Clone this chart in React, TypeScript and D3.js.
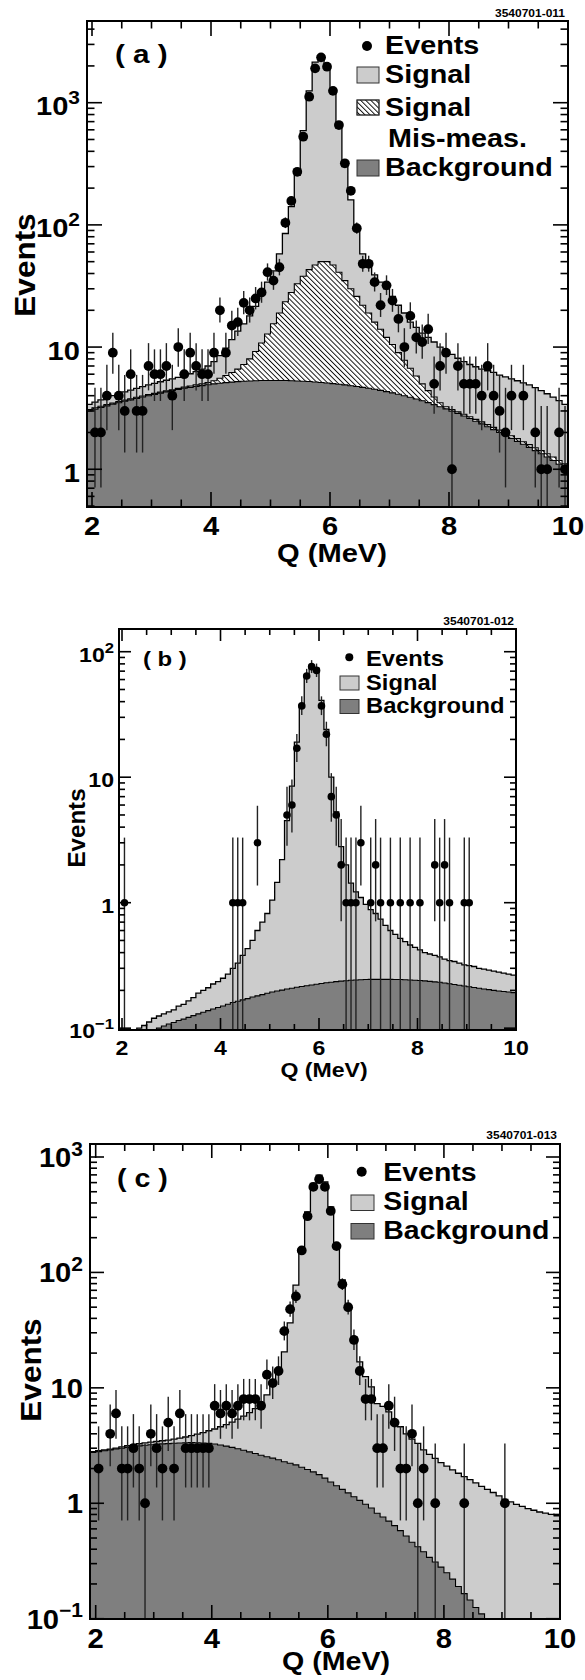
import React from 'react';
import * as d3 from 'd3';

// ---------- data (bins of 0.1 MeV starting at 1.9 MeV) ----------
const EDGE0 = 1.9;
const BINW = 0.1;

// Panel (a)
const sigA = [3.4,
  3.55, 3.7, 3.85, 4.0, 4.15, 4.3, 4.45, 4.6, 4.75, 4.9,
  5.05, 5.2, 5.35, 5.5, 5.65, 5.85, 6.05, 6.3, 6.6, 7.0,
  7.6, 8.5, 9.8, 11.5, 13.5, 15.5, 18, 21.5, 27, 34,
  42, 58, 85, 141, 256, 590, 1250, 2150, 2300, 2030,
  1300, 620, 300, 160, 92, 58, 46, 39, 34, 30,
  26, 22, 19, 16, 14.5, 13, 12, 11, 10, 9.3,
  8.7, 8.1, 7.6, 7.2, 6.9, 6.6, 6.4, 6.2, 5.9, 5.7,
  5.5, 5.3, 5.1, 4.9, 4.65, 4.4, 4.15, 3.9, 3.65, 3.4];
const misA = [3.08,
  3.18, 3.28, 3.38, 3.48, 3.58, 3.68, 3.78, 3.88, 3.98, 4.08,
  4.18, 4.28, 4.38, 4.48, 4.59, 4.7, 4.8, 4.9, 5.0, 5.12,
  5.3, 5.55, 5.85, 6.2, 6.6, 7.2, 8.0, 9.2, 10.8, 12.8,
  15.5, 19, 23.5, 28, 33, 38, 43, 47, 50, 50,
  47, 41, 35, 30, 26, 22, 19, 16, 14, 12,
  10.5, 9, 7.8, 6.7, 5.8, 5.0, 4.4, 3.9, 3.5, 3.25,
  3.08, 2.95, 2.82, 2.69, 2.56, 2.44, 2.32, 2.2, 2.09, 1.98,
  1.88, 1.78, 1.68, 1.59, 1.5, 1.42, 1.34, 1.26, 1.18, 1.11];
const bgA = [3.0,
  3.1, 3.2, 3.3, 3.4, 3.5, 3.6, 3.7, 3.8, 3.9, 4.0,
  4.1, 4.2, 4.3, 4.4, 4.5, 4.6, 4.68, 4.76, 4.84, 4.92,
  5.0, 5.06, 5.12, 5.17, 5.21, 5.25, 5.28, 5.3, 5.32, 5.33,
  5.33, 5.33, 5.32, 5.3, 5.28, 5.25, 5.22, 5.18, 5.13, 5.08,
  5.02, 4.96, 4.9, 4.83, 4.76, 4.68, 4.6, 4.51, 4.42, 4.32,
  4.22, 4.11, 4.0, 3.88, 3.76, 3.64, 3.51, 3.38, 3.25, 3.12,
  2.99, 2.86, 2.73, 2.6, 2.47, 2.35, 2.23, 2.11, 2.0, 1.89,
  1.79, 1.69, 1.6, 1.51, 1.42, 1.34, 1.26, 1.18, 1.1, 1.03];
const evA = [0,
  2, 2, 4, 9, 4, 3, 6, 3, 3, 7,
  6, 6, 7, 4, 10, 6, 9, 7, 6, 6,
  9, 20, 9, 15, 16, 23, 20, 25, 28, 41,
  35, 45, 104, 157, 272, 527, 1120, 1910, 2350, 1970,
  1250, 656, 319, 190, 94, 48, 48, 34, 22, 32,
  24, 17, 10, 18, 12, 11, 14, 5, 7, 9,
  1, 7, 5, 5, 5, 4, 7, 4, 3, 2,
  4, 0, 4, 0, 2, 1, 1, 0, 2, 1];

// Panel (b)
const sigB = [0.07,
  0.075, 0.08, 0.09, 0.1, 0.105, 0.112, 0.12, 0.125, 0.13, 0.135,
  0.14, 0.15, 0.155, 0.165, 0.175, 0.19, 0.2, 0.21, 0.225, 0.235,
  0.25, 0.27, 0.3, 0.33, 0.38, 0.43, 0.5, 0.6, 0.7, 0.82,
  1.05, 1.45, 2.2, 4.5, 8.5, 19, 37.6, 65, 78, 74,
  41, 24, 10, 5.3, 2.8, 2.0, 1.43, 1.22, 1.1, 0.97,
  0.88, 0.82, 0.74, 0.66, 0.6, 0.56, 0.52, 0.49, 0.46, 0.44,
  0.42, 0.4, 0.39, 0.38, 0.37, 0.355, 0.345, 0.34, 0.33, 0.32,
  0.315, 0.31, 0.3, 0.295, 0.29, 0.285, 0.28, 0.275, 0.27, 0.265];
const bgB = [0.06,
  0.065, 0.07, 0.075, 0.08, 0.085, 0.09, 0.095, 0.1, 0.104, 0.108,
  0.111, 0.115, 0.118, 0.122, 0.126, 0.13, 0.134, 0.138, 0.142, 0.146,
  0.15, 0.155, 0.16, 0.164, 0.168, 0.172, 0.177, 0.181, 0.185, 0.19,
  0.194, 0.198, 0.201, 0.205, 0.208, 0.212, 0.215, 0.218, 0.221, 0.224,
  0.227, 0.23, 0.232, 0.235, 0.237, 0.239, 0.241, 0.242, 0.243, 0.244,
  0.245, 0.245, 0.245, 0.245, 0.245, 0.244, 0.244, 0.243, 0.242, 0.241,
  0.24, 0.238, 0.236, 0.234, 0.232, 0.229, 0.226, 0.223, 0.22, 0.217,
  0.214, 0.211, 0.208, 0.205, 0.203, 0.2, 0.198, 0.196, 0.194, 0.192];
const evB = [0,
  1, 0, 0, 0, 0, 0, 0, 0, 0, 0,
  0, 0, 0, 0, 0, 0, 0, 0, 0, 0,
  0, 0, 1, 1, 1, 0, 0, 3, 0, 0,
  0, 0, 0, 5, 6, 17, 37, 64, 76, 71,
  37, 22, 7, 5, 2, 1, 1, 1, 3, 0,
  1, 2, 1, 0, 1, 0, 1, 0, 1, 0,
  1, 0, 0, 2, 1, 2, 1, 0, 0, 1,
  1, 0, 0, 0, 0, 0, 0, 0, 0, 0];

// Panel (c)
const sigC = [2.8,
  2.85, 2.9, 2.95, 3.0, 3.08, 3.15, 3.2, 3.28, 3.33, 3.38,
  3.43, 3.48, 3.53, 3.6, 3.67, 3.75, 3.85, 3.97, 4.1, 4.25,
  4.4, 4.6, 4.8, 5.05, 5.35, 5.7, 6.1, 6.6, 7.3, 8.7,
  11.5, 14.5, 20.5, 36.6, 77.6, 156, 335, 590, 697, 609,
  370, 169, 86, 50, 27.7, 16.8, 12.5, 10.2, 7.3, 6.9,
  6.2, 4.8, 4.6, 4.0, 3.6, 3.3, 2.9, 2.65, 2.45, 2.25,
  2.1, 1.95, 1.82, 1.7, 1.6, 1.5, 1.4, 1.32, 1.24, 1.16,
  1.08, 1.03, 0.98, 0.94, 0.9, 0.87, 0.84, 0.82, 0.8, 0.78];
const bgC = [2.75,
  2.8, 2.85, 2.9, 2.95, 3.0, 3.05, 3.1, 3.14, 3.18, 3.21,
  3.24, 3.27, 3.29, 3.31, 3.33, 3.34, 3.35, 3.34, 3.32, 3.3,
  3.26, 3.2, 3.13, 3.05, 2.97, 2.88, 2.79, 2.7, 2.61, 2.53,
  2.46, 2.38, 2.29, 2.22, 2.15, 2.05, 1.96, 1.87, 1.77, 1.65,
  1.53, 1.42, 1.32, 1.23, 1.14, 1.06, 0.98, 0.91, 0.82, 0.76,
  0.7, 0.64, 0.58, 0.52, 0.46, 0.42, 0.38, 0.34, 0.31, 0.28,
  0.25, 0.22, 0.19, 0.165, 0.145, 0.125, 0.11, 0.095, 0.08, 0.07,
  0.06, 0.05, 0.045, 0.04, 0.035, 0.03, 0.027, 0.024, 0.021, 0.019];
const evC = [0,
  2, 0, 4, 6, 2, 2, 3, 2, 1, 4,
  3, 2, 5, 2, 6, 3, 3, 3, 3, 3,
  7, 6, 7, 6, 7, 8, 8, 8, 7, 13,
  11, 14, 31, 48, 62, 155, 307, 551, 642, 551,
  341, 169, 79, 50, 26, 14, 8, 8, 3, 3,
  7, 5, 2, 2, 4, 1, 2, 0, 1, 0,
  0, 0, 0, 1, 0, 0, 0, 0, 0, 0,
  1, 0, 0, 0, 0, 0, 0, 0, 0, 0];

// Poisson 68% intervals used for small counts
const POIS_LO = [0, 0, 0.71, 1.37, 2.09, 2.84, 3.62, 4.42, 5.23, 6.06, 6.89];
const POIS_HI = [1.84, 3.3, 4.64, 5.92, 7.16, 8.38, 9.58, 10.77, 11.95, 13.11, 14.27];

const X_TICK_LABELS = [2, 4, 6, 8, 10];
const LEGEND_A = ['Events', 'Signal', 'Signal', 'Mis-meas.', 'Background'];
const LEGEND_BC = ['Events', 'Signal', 'Background'];

const FONT = "'Liberation Sans', Arial, Helvetica, sans-serif";
const LIGHT = '#cccccc';
const DARK = '#7f7f7f';

function errRange(n: number): [number, number] {
  if (n <= 10) return [POIS_LO[n], POIS_HI[n]];
  const s = Math.sqrt(n);
  return [n - s + 0.33, n + s + 1];
}

type TP = { x: number; y: number; fs: number; sx?: number; anchor?: string; rot?: number; children: any };
function T({ x, y, fs, sx = 1, anchor = 'start', rot = 0, children }: TP) {
  return (
    <text
      transform={`translate(${x},${y}) rotate(${rot}) scale(${sx},1)`}
      fontSize={fs}
      fontWeight="bold"
      fontFamily={FONT}
      textAnchor={anchor}
      fill="#000"
    >
      {children}
    </text>
  );
}

type Cfg = {
  id: string;
  x0: number; x1: number; y0: number; y1: number;
  xd: [number, number]; yd: [number, number];
  sig: number[]; mis?: number[]; bg: number[]; ev: number[];
  r: number; tfs: number; tsx: number; tickL: number;
  yLabelGap: number; yLabelDy: number; xLabelY: number;
  decades: number[];
  label: string; labelX: number; labelY: number; labelFs: number; labelSx: number;
  code: string; codeX: number; codeY: number;
  yTitleX: number; yTitleY: number; yTitleFs: number; yTitleSx: number;
  xTitleX: number; xTitleY: number; xTitleFs: number; xTitleSx: number;
};

function Panel({ c }: { c: Cfg }) {
  const x = d3.scaleLinear().domain(c.xd).range([c.x0, c.x1]);
  const y = d3.scaleLog().domain(c.yd).range([c.y1, c.y0]);
  const yv = (v: number) => y(Math.max(v, c.yd[0] * 0.3));
  const pts = (vals: number[]) => {
    const p: [number, number][] = vals.map((v, i) => [EDGE0 + i * BINW, v]);
    p.push([EDGE0 + vals.length * BINW, vals[vals.length - 1]]);
    return p;
  };
  const area = d3.area<[number, number]>()
    .x(d => x(d[0])).y0(c.y1 + 5).y1(d => yv(d[1])).curve(d3.curveStepAfter);
  const line = d3.line<[number, number]>()
    .x(d => x(d[0])).y(d => yv(d[1])).curve(d3.curveStepAfter);
  const clip = `clip-${c.id}`;

  const xMinor = d3.range(2, 10.001, 0.5);
  const yMajor = c.decades;
  const yMinor: number[] = [];
  for (let d = Math.floor(Math.log10(c.yd[0])) - 1; d <= Math.ceil(Math.log10(c.yd[1])); d++) {
    for (let k = 2; k <= 9; k++) {
      const v = k * Math.pow(10, d);
      if (v > c.yd[0] && v < c.yd[1]) yMinor.push(v);
    }
  }
  const L = c.tickL;
  const tickLines: any[] = [];
  xMinor.forEach((v, i) => {
    const major = X_TICK_LABELS.includes(Math.round(v * 10) / 10);
    const l = major ? L : L / 2;
    tickLines.push(<line key={`xb${i}`} x1={x(v)} x2={x(v)} y1={c.y1} y2={c.y1 - l} />);
    tickLines.push(<line key={`xt${i}`} x1={x(v)} x2={x(v)} y1={c.y0} y2={c.y0 + l} />);
  });
  yMajor.forEach((v, i) => {
    tickLines.push(<line key={`yl${i}`} x1={c.x0} x2={c.x0 + L} y1={y(v)} y2={y(v)} />);
    tickLines.push(<line key={`yr${i}`} x1={c.x1} x2={c.x1 - L} y1={y(v)} y2={y(v)} />);
  });
  yMinor.forEach((v, i) => {
    tickLines.push(<line key={`ml${i}`} x1={c.x0} x2={c.x0 + L / 2} y1={y(v)} y2={y(v)} />);
    tickLines.push(<line key={`mr${i}`} x1={c.x1} x2={c.x1 - L / 2} y1={y(v)} y2={y(v)} />);
  });

  const evPts = c.ev.map((n, i) => ({ n, xc: EDGE0 + (i + 0.5) * BINW })).filter(d => d.n > 0);

  const yLab = (v: number) => {
    const e = Math.round(Math.log10(v));
    if (e === 0) return <>1</>;
    if (e === 1) return <>10</>;
    return (
      <>
        10<tspan dy={-0.42 * c.tfs} fontSize={0.72 * c.tfs}>{e < 0 ? `\u2212${-e}` : `${e}`}</tspan>
      </>
    );
  };

  return (
    <g>
      <defs>
        <clipPath id={clip}>
          <rect x={c.x0} y={c.y0} width={c.x1 - c.x0} height={c.y1 - c.y0} />
        </clipPath>
      </defs>
      <g clipPath={`url(#${clip})`}>
        <path d={area(pts(c.sig)) || ''} fill={LIGHT} />
        {c.mis && <path d={area(pts(c.mis)) || ''} fill="#fff" />}
        {c.mis && <path d={area(pts(c.mis)) || ''} fill="url(#hatch)" />}
        <path d={area(pts(c.bg)) || ''} fill={DARK} />
        <path d={line(pts(c.sig)) || ''} fill="none" stroke="#000" strokeWidth={1.3} />
        {c.mis && <path d={line(pts(c.mis)) || ''} fill="none" stroke="#000" strokeWidth={1.1} />}
        <path d={line(pts(c.bg)) || ''} fill="none" stroke="#000" strokeWidth={1.1} />
        {evPts.map((d, i) => {
          const [lo, hi] = errRange(d.n);
          return (
            <line key={`e${i}`} x1={x(d.xc)} x2={x(d.xc)} y1={yv(hi)} y2={lo > 0 ? yv(lo) : c.y1 + 5}
              stroke="#222" strokeWidth={1.4} />
          );
        })}
        {evPts.map((d, i) => (
          <circle key={`p${i}`} cx={x(d.xc)} cy={yv(d.n)} r={c.r} fill="#000" />
        ))}
      </g>
      <g stroke="#000" strokeWidth={1.6}>{tickLines}</g>
      <rect x={c.x0} y={c.y0} width={c.x1 - c.x0} height={c.y1 - c.y0} fill="none" stroke="#000" strokeWidth={2} />
      {X_TICK_LABELS.map(v => (
        <T key={`xl${v}`} x={x(v)} y={c.xLabelY} fs={c.tfs} sx={c.tsx} anchor="middle">{v}</T>
      ))}
      {yMajor.map(v => (
        <T key={`yl${v}`} x={c.x0 - c.yLabelGap} y={y(v) + c.yLabelDy} fs={c.tfs} sx={c.tsx} anchor="end">{yLab(v)}</T>
      ))}
      <T x={c.labelX} y={c.labelY} fs={c.labelFs} sx={c.labelSx}>{c.label}</T>
      <T x={c.codeX} y={c.codeY} fs={10} sx={1.2} anchor="end">{c.code}</T>
      <T x={c.yTitleX} y={c.yTitleY} fs={c.yTitleFs} sx={c.yTitleSx} rot={-90} anchor="middle">Events</T>
      <T x={c.xTitleX} y={c.xTitleY} fs={c.xTitleFs} sx={c.xTitleSx} anchor="middle">Q (MeV)</T>
    </g>
  );
}

function Box({ x, y, w, h, fill }: { x: number; y: number; w: number; h: number; fill: string }) {
  return <rect x={x} y={y} width={w} height={h} fill={fill} stroke="#333" strokeWidth={1} />;
}

export default function App() {
  const A: Cfg = {
    id: 'a', x0: 87, x1: 568, y0: 21, y1: 507, xd: [1.916, 10], yd: [0.491, 4663],
    sig: sigA, mis: misA, bg: bgA, ev: evA, r: 4.9, tfs: 26, tsx: 1.12, tickL: 15,
    yLabelGap: 7, yLabelDy: 12.5, xLabelY: 535, decades: [1, 10, 100, 1000],
    label: '( a )', labelX: 115, labelY: 63, labelFs: 26, labelSx: 1.14,
    code: '3540701-011', codeX: 565, codeY: 17,
    yTitleX: 35, yTitleY: 265, yTitleFs: 30, yTitleSx: 1.05,
    xTitleX: 332, xTitleY: 562, xTitleFs: 26, xTitleSx: 1.12,
  };
  const B: Cfg = {
    id: 'b', x0: 119, x1: 516, y0: 629, y1: 1030, xd: [1.939, 10], yd: [0.0967, 151.7],
    sig: sigB, bg: bgB, ev: evB, r: 3.8, tfs: 21, tsx: 1.1, tickL: 12,
    yLabelGap: 5, yLabelDy: 10, xLabelY: 1055, decades: [0.1, 1, 10, 100],
    label: '( b )', labelX: 143, labelY: 666, labelFs: 21, labelSx: 1.14,
    code: '3540701-012', codeX: 514, codeY: 625,
    yTitleX: 85, yTitleY: 828, yTitleFs: 23, yTitleSx: 1.05,
    xTitleX: 324, xTitleY: 1077, xTitleFs: 21, xTitleSx: 1.1,
  };
  const C: Cfg = {
    id: 'c', x0: 90, x1: 560, y0: 1144, y1: 1619, xd: [1.902, 10], yd: [0.0994, 1296],
    sig: sigC, bg: bgC, ev: evC, r: 4.9, tfs: 27, tsx: 1.08, tickL: 14,
    yLabelGap: 7, yLabelDy: 10, xLabelY: 1648, decades: [0.1, 1, 10, 100, 1000],
    label: '( c )', labelX: 117, labelY: 1187, labelFs: 26, labelSx: 1.1,
    code: '3540701-013', codeX: 557, codeY: 1139,
    yTitleX: 41, yTitleY: 1370, yTitleFs: 30, yTitleSx: 1.05,
    xTitleX: 336, xTitleY: 1670, xTitleFs: 26, xTitleSx: 1.1,
  };

  return (
    <svg width={585} height={1680} viewBox="0 0 585 1680"
      style={{ position: 'absolute', left: 0, top: 0, background: '#fff' }}>
      <defs>
        <pattern id="hatch" patternUnits="userSpaceOnUse" width={3.6} height={3.6} patternTransform="rotate(-45)">
          <line x1={0.5} y1={0} x2={0.5} y2={3.6} stroke="#000" strokeWidth={0.9} />
        </pattern>
      </defs>
      <rect x={0} y={0} width={585} height={1680} fill="#fff" />
      <Panel c={A} />
      <Panel c={B} />
      <Panel c={C} />

      {/* legend (a) */}
      <circle cx={367} cy={46} r={5} fill="#000" />
      <T x={385} y={54} fs={25} sx={1.15}>{LEGEND_A[0]}</T>
      <Box x={357} y={67} w={22} h={16} fill={LIGHT} />
      <T x={385} y={83} fs={25} sx={1.15}>{LEGEND_A[1]}</T>
      <Box x={357} y={100} w={22} h={15} fill="#fff" />
      <rect x={357} y={100} width={22} height={15} fill="url(#hatch)" stroke="#333" strokeWidth={1} />
      <T x={385} y={116} fs={25} sx={1.15}>{LEGEND_A[2]}</T>
      <T x={388} y={147} fs={25} sx={1.15}>{LEGEND_A[3]}</T>
      <Box x={357} y={160} w={22} h={16} fill={DARK} />
      <T x={385} y={176} fs={25} sx={1.15}>{LEGEND_A[4]}</T>

      {/* legend (b) */}
      <circle cx={349.3} cy={657.3} r={4} fill="#000" />
      <T x={366} y={665.7} fs={22} sx={1.08}>{LEGEND_BC[0]}</T>
      <Box x={340} y={676} w={19} h={14} fill={LIGHT} />
      <T x={366} y={690} fs={22} sx={1.08}>{LEGEND_BC[1]}</T>
      <Box x={340} y={699.5} w={19} h={14} fill={DARK} />
      <T x={366} y={713.3} fs={22} sx={1.08}>{LEGEND_BC[2]}</T>

      {/* legend (c) */}
      <circle cx={361.7} cy={1171.7} r={5} fill="#000" />
      <T x={383.3} y={1180.7} fs={26} sx={1.095}>{LEGEND_BC[0]}</T>
      <Box x={351} y={1195} w={23} h={15.5} fill={LIGHT} />
      <T x={383.3} y={1210} fs={26} sx={1.095}>{LEGEND_BC[1]}</T>
      <Box x={351} y={1223.5} w={23} h={15.5} fill={DARK} />
      <T x={383.3} y={1239} fs={26} sx={1.095}>{LEGEND_BC[2]}</T>
    </svg>
  );
}
